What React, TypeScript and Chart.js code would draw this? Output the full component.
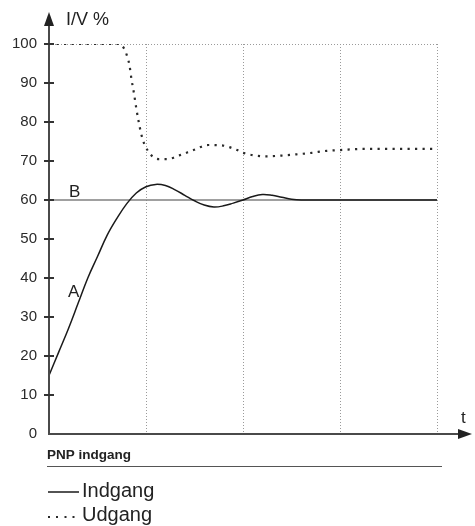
import React, { useEffect, useRef } from 'react';
import { Chart, registerables } from 'chart.js';

Chart.register(...registerables);

// ---- data ----
const indgangX = [0, 0.1, 0.2, 0.3, 0.4, 0.5, 0.6, 0.7, 0.8, 0.9, 1.0, 1.1, 1.2, 1.3, 1.4, 1.5, 1.6, 1.7, 1.8, 1.9, 2.0, 2.1, 2.2, 2.3, 2.4, 2.5, 2.6, 3.0, 3.5, 4.0];
const indgangY = [15, 21, 27, 33.5, 40, 45.5, 51, 55.3, 59, 61.8, 63.4, 64, 63.7, 62.6, 61.2, 59.8, 58.7, 58.2, 58.5, 59.2, 60, 60.9, 61.4, 61.2, 60.7, 60.2, 60, 60, 60, 60];

const udgangX = [0, 0.5, 0.72, 0.77, 0.8, 0.83, 0.85, 0.875, 0.9, 0.925, 0.95, 0.98, 1.02, 1.07, 1.13, 1.22, 1.35, 1.49, 1.64, 1.78, 1.94, 2.0, 2.1, 2.24, 2.4, 2.55, 2.71, 2.86, 3.0, 3.24, 3.5, 3.97];
const udgangY = [100, 100, 100, 99, 97.3, 94.5, 91, 87.5, 83.5, 80, 77, 74.5, 72.6, 71.1, 70.5, 70.5, 71.5, 72.8, 74.1, 74.0, 72.8, 72.1, 71.5, 71.2, 71.4, 71.7, 72.1, 72.6, 72.8, 73.1, 73.1, 73.1];

const refX = [0, 4];
const refY = [60, 60];

const seriesLabels = ['Indgang', 'Udgang'];
const yAxisTitle = 'I/V %';
const xAxisTitle = 't';
const curveLabelA = 'A';
const curveLabelB = 'B';
const panelTitle = 'PNP indgang';

const FONT = '"Liberation Sans", Arial, sans-serif';

const toPoints = (xs: number[], ys: number[]) => xs.map((x, i) => ({ x, y: ys[i] }));

const decorPlugin = {
  id: 'decor',
  afterDraw(chart: any) {
    const { ctx, scales } = chart;
    const xs = scales.x;
    const ys = scales.y;
    const x0 = xs.getPixelForValue(0);
    const y0 = ys.getPixelForValue(0);
    const xEnd = xs.getPixelForValue(4);
    ctx.save();
    // axes
    ctx.strokeStyle = '#4a4a4a';
    ctx.fillStyle = '#222';
    ctx.lineWidth = 2;
    ctx.beginPath();
    ctx.moveTo(x0, y0 + 1);
    ctx.lineTo(x0, 22);
    ctx.stroke();
    ctx.beginPath();
    ctx.moveTo(x0, 12);
    ctx.lineTo(x0 - 5, 26);
    ctx.lineTo(x0 + 5, 26);
    ctx.closePath();
    ctx.fill();
    ctx.beginPath();
    ctx.moveTo(x0 - 1, y0);
    ctx.lineTo(462, y0);
    ctx.stroke();
    ctx.beginPath();
    ctx.moveTo(472, y0);
    ctx.lineTo(458, y0 - 5);
    ctx.lineTo(458, y0 + 5);
    ctx.closePath();
    ctx.fill();
    // y tick marks (crossing axis)
    ctx.strokeStyle = '#333';
    ctx.lineWidth = 2;
    ys.ticks.forEach((t: any) => {
      if (t.value === 0) return;
      const py = Math.round(ys.getPixelForValue(t.value));
      ctx.beginPath();
      ctx.moveTo(x0 - 5, py);
      ctx.lineTo(x0 + 5, py);
      ctx.stroke();
    });
    // titles
    ctx.fillStyle = '#222';
    ctx.textBaseline = 'alphabetic';
    ctx.textAlign = 'left';
    ctx.font = `18px ${FONT}`;
    ctx.fillText(yAxisTitle, 66, 25);
    ctx.font = `17px ${FONT}`;
    ctx.fillText(xAxisTitle, 461, 423);
    ctx.fillText(curveLabelA, 68, 297);
    ctx.fillText(curveLabelB, 69, 197);
    // panel title
    ctx.font = `bold 13.5px ${FONT}`;
    ctx.fillText(panelTitle, 47, 459);
    ctx.strokeStyle = '#555';
    ctx.lineWidth = 1;
    ctx.beginPath();
    ctx.moveTo(47, 466.5);
    ctx.lineTo(xEnd + 5, 466.5);
    ctx.stroke();
    // legend
    const ds = chart.data.datasets;
    ctx.font = `20px ${FONT}`;
    ctx.strokeStyle = ds[0].borderColor;
    ctx.lineWidth = 1.5;
    ctx.beginPath();
    ctx.moveTo(48, 492);
    ctx.lineTo(79, 492);
    ctx.stroke();
    ctx.fillText(ds[0].label, 82, 497);
    ctx.fillStyle = ds[1].borderColor;
    [49, 57, 65.5, 73.5].forEach((dx) => ctx.fillRect(dx - 1, 516, 2, 2));
    ctx.fillStyle = '#222';
    ctx.fillText(ds[1].label, 82, 521);
    ctx.restore();
  },
};

export default function App() {
  const ref = useRef<HTMLCanvasElement | null>(null);
  useEffect(() => {
    if (!ref.current) return;
    const chart = new Chart(ref.current, {
      type: 'line',
      data: {
        datasets: [
          {
            label: seriesLabels[0],
            data: toPoints(indgangX, indgangY),
            borderColor: '#1a1a1a',
            borderWidth: 1.5,
            pointRadius: 0,
            tension: 0.4,
            fill: false,
            order: 1,
          },
          {
            label: seriesLabels[1],
            data: toPoints(udgangX, udgangY),
            borderColor: '#2a2a2a',
            borderWidth: 2.2,
            borderDash: [2.2, 5.3],
            borderCapStyle: 'butt',
            pointRadius: 0,
            cubicInterpolationMode: 'monotone',
            fill: false,
            order: 2,
          },
          {
            label: 'B',
            data: toPoints(refX, refY),
            borderColor: '#808080',
            borderWidth: 1.5,
            pointRadius: 0,
            fill: false,
            order: 3,
          },
        ],
      },
      options: {
        responsive: false,
        animation: false,
        devicePixelRatio: 1,
        layout: { padding: { top: 44, right: 38, left: 0, bottom: 0 } },
        plugins: { legend: { display: false }, tooltip: { enabled: false } },
        scales: {
          x: {
            type: 'linear',
            min: 0,
            max: 4,
            ticks: { display: false, stepSize: 1 },
            grid: {
              drawTicks: false,
              color: (c: any) => (c.tick && c.tick.value === 0 ? 'rgba(0,0,0,0)' : '#9a9a9a'),
              lineWidth: 1,
            },
            border: { display: false, dash: [1, 2] },
            afterFit: (s: any) => {
              s.height = 92;
            },
          },
          y: {
            min: 0,
            max: 100,
            ticks: {
              stepSize: 5,
              padding: 12,
              color: '#2a2a2a',
              font: { family: FONT, size: 15 },
              callback: (v: any) => (Number(v) % 10 === 0 ? String(v) : ''),
            },
            grid: {
              drawTicks: false,
              color: (c: any) => (c.tick && c.tick.value === 100 ? '#9a9a9a' : 'rgba(0,0,0,0)'),
              lineWidth: 1,
            },
            border: { display: false, dash: [1, 2] },
            afterFit: (s: any) => {
              s.width = 49;
            },
          },
        },
      },
      plugins: [decorPlugin],
    } as any);
    return () => chart.destroy();
  }, []);
  return (
    <div style={{ position: 'absolute', left: 0, top: 0, width: 475, height: 526, background: '#fff' }}>
      <canvas ref={ref} width={475} height={526} style={{ display: 'block' }} />
    </div>
  );
}
